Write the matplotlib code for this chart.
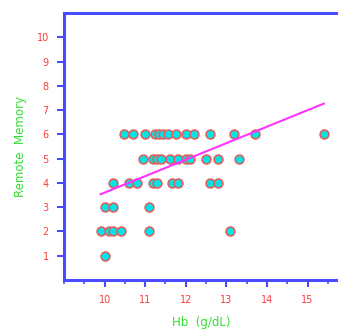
import matplotlib.pyplot as plt
import numpy as np
from matplotlib.ticker import MultipleLocator

# Hb (g/dL) vs remote memory score
hb_6 = [10.47, 10.7, 11.0, 11.25, 11.35, 11.45, 11.55, 11.75, 12.0, 12.2, 12.6, 13.2, 13.7, 15.4]
hb_5 = [10.95, 11.2, 11.3, 11.4, 11.6, 11.8, 12.0, 12.1, 12.5, 12.8, 13.3]
hb_4 = [10.2, 10.6, 10.8, 11.2, 11.3, 11.67, 11.82, 12.6, 12.8]
hb_3 = [10.0, 10.2, 11.1]
hb_2 = [9.9, 10.1, 10.2, 10.4, 11.1, 13.08]
hb_1 = [10.0]

rows = {6: hb_6, 5: hb_5, 4: hb_4, 3: hb_3, 2: hb_2, 1: hb_1}
hb = np.concatenate([rows[k] for k in rows])
memory = np.concatenate([[k] * len(rows[k]) for k in rows])

# fitted line
fit_slope = 0.679
fit_intercept = -3.19

blue = '#4a4aff'
red = '#ff3b3b'
green = '#33dd33'

fig = plt.figure(figsize=(3.38, 3.31), dpi=100)
ax = fig.add_axes([64 / 338, 51 / 331, 1 - 64 / 338, 267 / 331])

ax.scatter(hb, memory, s=40, facecolor='#00e5e5', edgecolor='#e06060',
           linewidth=1.2, zorder=3)

xs = np.array([hb.min(), hb.max()])
ax.plot(xs, fit_slope * xs + fit_intercept, color='#ff33ff', lw=1.5, zorder=4)

ax.set_xlim(9.0, 15.75)
ax.set_ylim(0, 11)
ax.set_xticks(range(10, 16))
ax.xaxis.set_minor_locator(MultipleLocator(0.5))
ax.set_yticks(range(1, 11))

for side in ['left', 'bottom', 'top']:
    ax.spines[side].set_color(blue)
    ax.spines[side].set_linewidth(2.2)
ax.spines['right'].set_visible(False)

ax.tick_params(axis='both', which='major', direction='out', length=5,
               width=1.5, color=blue, labelcolor=red, labelsize=7, pad=6)
ax.tick_params(axis='x', which='minor', direction='out', length=3,
               width=1.2, color=blue)

ax.set_xlabel('Hb  (g/dL)', color=green, fontsize=8.5, labelpad=8)
ax.set_ylabel('Remote  Memory', color=green, fontsize=8.5, labelpad=7)

fig.savefig('out.png', dpi=100)
